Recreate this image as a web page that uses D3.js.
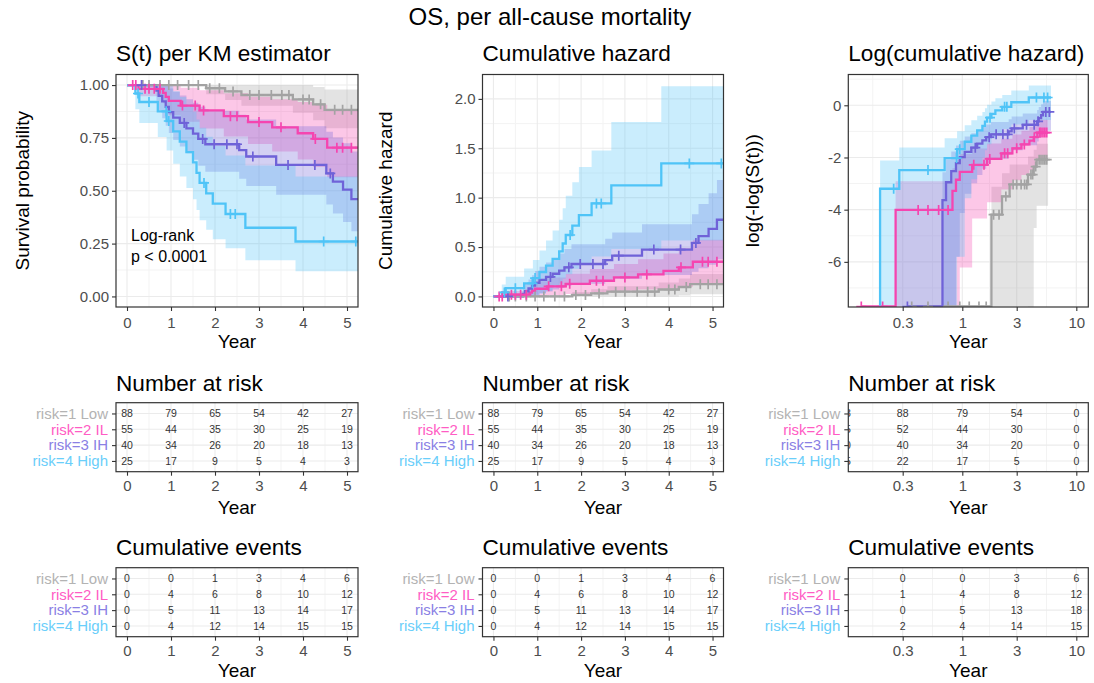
<!DOCTYPE html>
<html>
<head>
<meta charset="utf-8">
<script src="https://cdn.jsdelivr.net/npm/d3@7"></script>
<style>
  body { margin: 0; background: #fff; }
  svg { display: block; }
  text { font-family: "Liberation Sans", Arial, Helvetica, sans-serif; }
</style>
</head>
<body>
<svg id="chart" width="1094" height="683"></svg>
<script>
// ---------------- data ----------------
const groupNames = ["risk=1 Low", "risk=2 IL", "risk=3 IH", "risk=4 High"];

// Kaplan-Meier steps per group: event times, S(t), 95% CI lower / upper
const lowTime  = [1.80, 2.23, 2.60, 3.77, 4.23, 4.49];
const lowSurv  = [0.985, 0.970, 0.953, 0.932, 0.909, 0.883];
const lowLower = [0.957, 0.929, 0.902, 0.869, 0.834, 0.796];
const lowUpper = [1, 1, 1, 0.9998, 0.991, 0.979];
const lowCensor = [0.36, 0.5, 0.75, 0.95, 1.15, 1.4, 1.62, 1.88, 2.1, 2.41, 2.79, 3.0, 3.28, 3.52, 3.68, 4.0, 4.14, 4.4, 4.72, 4.9, 5.1, 5.3, 5.5];
const lowEnd = 5.65;

const ilTime  = [0.26, 0.82, 0.88, 0.95, 1.22, 1.65, 2.20, 2.75, 3.30, 3.88, 4.23, 4.55];
const ilSurv  = [0.982, 0.963, 0.944, 0.925, 0.903, 0.880, 0.853, 0.825, 0.800, 0.772, 0.745, 0.704];
const ilLower = [0.947, 0.914, 0.884, 0.857, 0.826, 0.794, 0.757, 0.721, 0.686, 0.648, 0.612, 0.564];
const ilUpper = [1, 1, 1, 0.998, 0.987, 0.976, 0.961, 0.945, 0.933, 0.920, 0.907, 0.879];
const ilCensor = [0.13, 0.2, 0.41, 0.5, 0.62, 0.75, 1.26, 1.55, 1.74, 2.35, 2.5, 3.0, 3.5, 4.28, 4.77, 4.9, 5.1, 5.3, 5.5];
const ilEnd = 5.6;

const ihTime  = [0.67, 0.72, 0.80, 0.88, 0.95, 1.05, 1.20, 1.35, 1.50, 1.62, 1.78, 2.55, 2.71, 3.39, 4.53, 4.68, 4.91, 5.10];
const ihSurv  = [0.974, 0.949, 0.923, 0.897, 0.872, 0.846, 0.821, 0.795, 0.770, 0.745, 0.720, 0.692, 0.662, 0.622, 0.582, 0.543, 0.505, 0.460];
const ihLower = [0.926, 0.882, 0.843, 0.807, 0.773, 0.740, 0.709, 0.677, 0.647, 0.618, 0.590, 0.557, 0.523, 0.481, 0.435, 0.392, 0.352, 0.308];
const ihUpper = [1, 1, 1, 0.997, 0.984, 0.967, 0.951, 0.933, 0.916, 0.898, 0.879, 0.859, 0.837, 0.805, 0.779, 0.752, 0.725, 0.686];
const ihCensor = [0.33, 1.3, 1.72, 1.98, 2.27, 2.5, 2.86, 3.66, 4.27, 4.62, 5.4, 5.8];
const ihEnd = 6.0;

const highTime  = [0.19, 0.28, 0.70, 0.90, 1.05, 1.20, 1.35, 1.50, 1.58, 1.65, 1.80, 1.95, 2.24, 2.69, 3.83];
const highSurv  = [0.960, 0.920, 0.876, 0.830, 0.781, 0.732, 0.683, 0.634, 0.585, 0.537, 0.488, 0.439, 0.390, 0.325, 0.260];
const highLower = [0.886, 0.820, 0.754, 0.691, 0.628, 0.568, 0.513, 0.460, 0.409, 0.361, 0.315, 0.270, 0.228, 0.171, 0.119];
const highUpper = [1, 1, 1, 0.997, 0.972, 0.943, 0.910, 0.874, 0.837, 0.798, 0.756, 0.712, 0.667, 0.619, 0.567];
const highCensor = [0.25, 0.5, 0.89, 0.95, 1.75, 2.35, 2.46, 4.47, 5.2, 5.6];
const highEnd = 6.0;

// risk / event tables
const tableTimes = [0, 1, 2, 3, 4, 5];
const riskLow  = [88, 79, 65, 54, 42, 27];
const riskIL   = [55, 44, 35, 30, 25, 19];
const riskIH   = [40, 34, 26, 20, 18, 13];
const riskHigh = [25, 17, 9, 5, 4, 3];
const eventsLow  = [0, 0, 1, 3, 4, 6];
const eventsIL   = [0, 4, 6, 8, 10, 12];
const eventsIH   = [0, 5, 11, 13, 14, 17];
const eventsHigh = [0, 4, 12, 14, 15, 15];

const logTableTimes = [0.3, 1, 3, 10];
const riskLogLow  = [88, 79, 54, 0];
const riskLogIL   = [52, 44, 30, 0];
const riskLogIH   = [40, 34, 20, 0];
const riskLogHigh = [22, 17, 5, 0];
const eventsLogLow  = [0, 0, 3, 6];
const eventsLogIL   = [1, 4, 8, 12];
const eventsLogIH   = [0, 5, 13, 18];
const eventsLogHigh = [2, 4, 14, 15];

// axis breaks and labels
const linXTicks = [0, 1, 2, 3, 4, 5];
const linXMinor = [0.5, 1.5, 2.5, 3.5, 4.5];
const logXTicks = [0.3, 1, 3, 10];
const logXTickLabels = ["0.3", "1", "3", "10"];
const logXMinor = [0.164, 0.548, 1.732, 5.477];
const kmYTicks = [0, 0.25, 0.5, 0.75, 1];
const kmYTickLabels = ["0.00", "0.25", "0.50", "0.75", "1.00"];
const kmYMinor = [0.125, 0.375, 0.625, 0.875];
const chYTicks = [0, 0.5, 1, 1.5, 2];
const chYTickLabels = ["0.0", "0.5", "1.0", "1.5", "2.0"];
const chYMinor = [0.25, 0.75, 1.25, 1.75];
const llYTicks = [-6, -4, -2, 0];
const llYTickLabels = ["-6", "-4", "-2", "0"];
const llYMinor = [-7, -5, -3, -1, 1];

// ---------------- styling / layout ----------------
const colors = ["#A3A3A3", "#F545B0", "#6F62D8", "#4FC4F7"];
const labelColors = ["#B3B3B3", "#FF5CC4", "#8A7FE4", "#6ACEFA"];
const cols = [{x0: 116, x1: 358}, {x0: 482.5, x1: 723.5}, {x0: 848.3, x1: 1088.3}];
const plotBox = [74.5, 307];
const riskBox = [402.7, 471.7];
const eventBox = [567.7, 636.7];
const linXDomain = [-0.25, 5.25];
const logXDomain = [0.1, 12.74];

const svg = d3.select("#chart");
const defs = svg.append("defs");
let clipCount = 0;
function clipRect(x0, y0, x1, y1) {
  const id = "clip" + (clipCount++);
  defs.append("clipPath").attr("id", id).append("rect")
    .attr("x", x0).attr("y", y0).attr("width", x1 - x0).attr("height", y1 - y0);
  return `url(#${id})`;
}

function steps(times, surv, lower, upper, end) {
  const pts = [{t: 0, s: 1, lo: 1, hi: 1}];
  times.forEach((t, i) => pts.push({t, s: surv[i], lo: lower[i], hi: upper[i]}));
  const last = pts[pts.length - 1];
  pts.push({t: end, s: last.s, lo: last.lo, hi: last.hi});
  return pts;
}
const curves = [
  {pts: steps(lowTime, lowSurv, lowLower, lowUpper, lowEnd), censor: lowCensor, first: lowTime[0]},
  {pts: steps(ilTime, ilSurv, ilLower, ilUpper, ilEnd), censor: ilCensor, first: ilTime[0]},
  {pts: steps(ihTime, ihSurv, ihLower, ihUpper, ihEnd), censor: ihCensor, first: ihTime[0]},
  {pts: steps(highTime, highSurv, highLower, highUpper, highEnd), censor: highCensor, first: highTime[0]}
];
function survAt(pts, t) { let s = 1; for (const p of pts) if (p.t <= t) s = p.s; return s; }

const kinds = {
  km: {f: s => s, band: p => [p.lo, p.hi]},
  ch: {f: s => -Math.log(s), band: p => [-Math.log(p.hi), -Math.log(p.lo)]},
  ll: {f: s => Math.log(-Math.log(s)), band: p => [Math.log(-Math.log(p.hi)), Math.log(-Math.log(p.lo))]}
};

function styleAxis(g, size) {
  g.select(".domain").remove();
  g.selectAll(".tick line").attr("stroke", "#333333").attr("stroke-width", 1.1);
  g.selectAll(".tick text").attr("fill", "#4D4D4D").attr("font-size", size)
    .attr("font-family", '"Liberation Sans", Arial, sans-serif');
  g.attr("font-size", null).attr("font-family", null);
}

function gridLines(g, x, y, box, xMajor, xMinor, yMajor, yMinor) {
  const [x0, x1] = x.range(), [y1, y0] = [box[1], box[0]];
  const gg = g.append("g");
  gg.selectAll(".vmin").data(xMinor).join("line")
    .attr("x1", d => x(d)).attr("x2", d => x(d)).attr("y1", y0).attr("y2", y1)
    .attr("stroke", "#F3F3F3").attr("stroke-width", 1);
  gg.selectAll(".hmin").data(yMinor).join("line")
    .attr("x1", x0).attr("x2", x1).attr("y1", d => y(d)).attr("y2", d => y(d))
    .attr("stroke", "#F3F3F3").attr("stroke-width", 1);
  gg.selectAll(".vmaj").data(xMajor).join("line")
    .attr("x1", d => x(d)).attr("x2", d => x(d)).attr("y1", y0).attr("y2", y1)
    .attr("stroke", "#EBEBEB").attr("stroke-width", 1.1);
  gg.selectAll(".hmaj").data(yMajor).join("line")
    .attr("x1", x0).attr("x2", x1).attr("y1", d => y(d)).attr("y2", d => y(d))
    .attr("stroke", "#EBEBEB").attr("stroke-width", 1.1);
}

function border(g, x0, y0, x1, y1) {
  g.append("rect").attr("x", x0).attr("y", y0).attr("width", x1 - x0).attr("height", y1 - y0)
    .attr("fill", "none").attr("stroke", "#333333").attr("stroke-width", 1.2);
}

function xScaleFor(col, isLog) {
  const {x0, x1} = cols[col];
  return isLog ? d3.scaleLog().domain(logXDomain).range([x0, x1])
               : d3.scaleLinear().domain(linXDomain).range([x0, x1]);
}

function titleText(x, y, txt, size) {
  svg.append("text").attr("x", x).attr("y", y).attr("font-size", size).attr("fill", "#000").text(txt);
}

// ---------------- curve panels ----------------
function curvePanel(cfg) {
  const {col, kind, isLog, yDomain, yTicks, yLabels, yMinor, title, yTitle, yTitleX} = cfg;
  const {x0, x1} = cols[col];
  const [y0, y1] = plotBox;
  const x = xScaleFor(col, isLog);
  const y = d3.scaleLinear().domain(yDomain).range([y1, y0]);
  const yv = v => Number.isFinite(v) ? y(v) : (v < 0 ? y1 - 0.5 : y0);
  const f = kinds[kind].f, band = kinds[kind].band;
  const g = svg.append("g");

  gridLines(g, x, y, plotBox, isLog ? logXTicks : linXTicks, isLog ? logXMinor : linXMinor, yTicks, yMinor);

  const marks = g.append("g").attr("clip-path", clipRect(x0, y0, x1, y1));
  // confidence bands
  curves.forEach((c, i) => {
    const pts = isLog ? c.pts.filter(p => p.t >= c.first) : c.pts;
    const area = d3.area().curve(d3.curveStepAfter)
      .x(d => x(d.t)).y0(d => yv(band(d)[0])).y1(d => yv(band(d)[1]));
    marks.append("path").datum(pts).attr("d", area)
      .attr("fill", colors[i]).attr("fill-opacity", 0.3).attr("stroke", "none");
  });
  // step curves
  curves.forEach((c, i) => {
    let pts = c.pts;
    if (isLog) {
      const start = Math.min(c.first, c.censor[0]);
      pts = [{t: start, s: 1}].concat(c.pts.filter(p => p.t > 0));
    }
    const line = d3.line().curve(d3.curveStepAfter).x(d => x(d.t)).y(d => yv(f(d.s)));
    marks.append("path").datum(pts).attr("d", line)
      .attr("fill", "none").attr("stroke", colors[i]).attr("stroke-width", 2.3);
  });
  // censoring marks
  curves.forEach((c, i) => {
    marks.append("g").selectAll("path").data(c.censor).join("path")
      .attr("d", t => {
        const px = x(t), py = yv(f(survAt(c.pts, t)));
        return `M${px - 5},${py}h10M${px},${py - 5}v10`;
      })
      .attr("stroke", colors[i]).attr("stroke-width", 1.7).attr("fill", "none");
  });

  border(g, x0, y0, x1, y1);

  const ax = g.append("g").attr("transform", `translate(0,${y1})`)
    .call(d3.axisBottom(x).tickValues(isLog ? logXTicks : linXTicks)
      .tickFormat((d, i) => isLog ? logXTickLabels[i] : String(d)).tickSize(4).tickPadding(6));
  styleAxis(ax, 15);
  const ay = g.append("g").attr("transform", `translate(${x0},0)`)
    .call(d3.axisLeft(y).tickValues(yTicks).tickFormat((d, i) => yLabels[i]).tickSize(4).tickPadding(3));
  styleAxis(ay, 15);

  titleText(x0, 61, title, 22.6);
  svg.append("text").attr("x", (x0 + x1) / 2).attr("y", 348).attr("text-anchor", "middle")
    .attr("font-size", 19).text("Year");
  svg.append("text").attr("transform", `translate(${yTitleX},${(y0 + y1) / 2}) rotate(-90)`)
    .attr("text-anchor", "middle").attr("dy", "0.35em").attr("font-size", 19).text(yTitle);
  return {x, y, g};
}

curvePanel({col: 0, kind: "km", isLog: false, yDomain: [-0.05, 1.05],
  yTicks: kmYTicks, yLabels: kmYTickLabels, yMinor: kmYMinor,
  title: "S(t) per KM estimator", yTitle: "Survival probability", yTitleX: 22});
curvePanel({col: 1, kind: "ch", isLog: false, yDomain: [-0.107, 2.247],
  yTicks: chYTicks, yLabels: chYTickLabels, yMinor: chYMinor,
  title: "Cumulative hazard", yTitle: "Cumulative hazard", yTitleX: 385.5});
curvePanel({col: 2, kind: "ll", isLog: true, yDomain: [-7.73, 1.18],
  yTicks: llYTicks, yLabels: llYTickLabels, yMinor: llYMinor,
  title: "Log(cumulative hazard)", yTitle: "log(-log(S(t)))", yTitleX: 752});

// log-rank annotation
svg.append("text").attr("x", 131).attr("y", 241).attr("font-size", 16).attr("fill", "#000").text("Log-rank");
svg.append("text").attr("x", 131).attr("y", 262).attr("font-size", 16).attr("fill", "#000").text("p < 0.0001");

// ---------------- tables ----------------
function tablePanel(cfg) {
  const {col, box, isLog, times, rows, title, titleY, yearY, edgeRows} = cfg;
  const {x0, x1} = cols[col];
  const [y0, y1] = box;
  const x = xScaleFor(col, isLog);
  const r = d3.scaleLinear().domain([0.32, 4.68]).range([y0, y1]);
  const rowIdx = [1, 2, 3, 4];
  const g = svg.append("g");
  gridLines(g, x, r, box, isLog ? logXTicks : linXTicks, isLog ? logXMinor : linXMinor, rowIdx, []);

  const cells = g.append("g").attr("clip-path", clipRect(x0, y0, x1, y1));
  rows.forEach((vals, i) => {
    cells.selectAll(null).data(vals).join("text")
      .attr("x", (d, j) => x(times[j])).attr("y", r(i + 1)).attr("dy", "0.35em")
      .attr("text-anchor", "middle").attr("font-size", 10.5).attr("fill", "#333333")
      .text(d => d);
    if (edgeRows) {
      // values at time zero sit at the left edge of the log axis and are mostly clipped
      cells.append("text").attr("x", x0 + 2.5).attr("y", r(i + 1)).attr("dy", "0.35em")
        .attr("text-anchor", "end").attr("font-size", 10.5).attr("fill", "#333333")
        .text(edgeRows[i][0]);
    }
  });
  border(g, x0, y0, x1, y1);

  const ax = g.append("g").attr("transform", `translate(0,${y1})`)
    .call(d3.axisBottom(x).tickValues(isLog ? logXTicks : linXTicks)
      .tickFormat((d, i) => isLog ? logXTickLabels[i] : String(d)).tickSize(4).tickPadding(5));
  styleAxis(ax, 15);
  const ay = g.append("g").attr("transform", `translate(${x0},0)`)
    .call(d3.axisLeft(r).tickValues(rowIdx).tickFormat((d, i) => groupNames[i]).tickSize(4).tickPadding(4));
  styleAxis(ay, 15);
  ay.selectAll(".tick text").attr("fill", (d, i) => labelColors[i]);

  titleText(x0, titleY, title, 22.6);
  svg.append("text").attr("x", (x0 + x1) / 2).attr("y", yearY).attr("text-anchor", "middle")
    .attr("font-size", 19).text("Year");
}

const riskRows = [riskLow, riskIL, riskIH, riskHigh];
const eventRows = [eventsLow, eventsIL, eventsIH, eventsHigh];
const riskLogRows = [riskLogLow, riskLogIL, riskLogIH, riskLogHigh];
const eventLogRows = [eventsLogLow, eventsLogIL, eventsLogIH, eventsLogHigh];

[0, 1].forEach(col => {
  tablePanel({col, box: riskBox, isLog: false, times: tableTimes, rows: riskRows,
    title: "Number at risk", titleY: 391, yearY: 513.5});
  tablePanel({col, box: eventBox, isLog: false, times: tableTimes, rows: eventRows,
    title: "Cumulative events", titleY: 555, yearY: 677});
});
tablePanel({col: 2, box: riskBox, isLog: true, times: logTableTimes, rows: riskLogRows,
  title: "Number at risk", titleY: 391, yearY: 513.5, edgeRows: riskRows});
tablePanel({col: 2, box: eventBox, isLog: true, times: logTableTimes, rows: eventLogRows,
  title: "Cumulative events", titleY: 555, yearY: 677});

// overall title
svg.append("text").attr("x", 550).attr("y", 25).attr("text-anchor", "middle")
  .attr("font-size", 24).attr("fill", "#000").text("OS, per all-cause mortality");
</script>
</body>
</html>
